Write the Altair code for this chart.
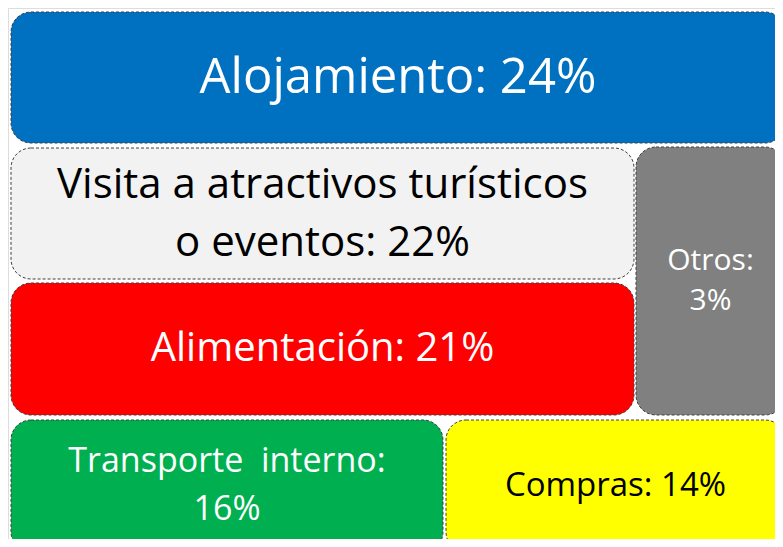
import altair as alt
import pandas as pd

# ---- data ----
categories = ["Alojamiento", "Visita a atractivos turísticos o eventos", "Alimentación",
              "Transporte interno", "Compras", "Otros"]
labels = ["Alojamiento: 24%", "Visita a atractivos turísticos\no eventos: 22%", "Alimentación: 21%",
          "Transporte\u00a0 interno:\n16%", "Compras: 14%", "Otros:\n3%"]
percent = [24, 22, 21, 16, 14, 3]

# ---- layout of the tiles (grid units = page pixels) ----
x0 = [11, 11, 11, 11, 446, 636]
x1 = [785, 634, 634, 443, 785, 785]
y0 = [12, 148, 283, 420, 420, 147]
y1 = [143, 279, 415, 552, 552, 415]

# ---- styles ----
fills = ["#0070C0", "#F2F2F2", "#FF0000", "#00B050", "#FFFF00", "#808080"]
text_colors = ["#FFFFFF", "#000000", "#FFFFFF", "#FFFFFF", "#000000", "#FFFFFF"]
font_sizes = [49, 42, 40, 34, 33, 30]
line_heights = [60, 58, 50, 48, 40, 40]
n_lines = [1, 2, 1, 2, 1, 2]

df = pd.DataFrame({
    "categoria": categories, "label": labels, "pct": percent,
    "x0": x0, "x1": x1, "y0": y0, "y1": y1,
    "fill": fills, "tcolor": text_colors,
})
df["cx"] = (df["x0"] + df["x1"]) / 2
df["cy"] = (df["y0"] + df["y1"]) / 2

W, H = 767, 531
xs = alt.Scale(domain=[8, 8 + W], nice=False, zero=False)
ys = alt.Scale(domain=[8, 8 + H], nice=False, zero=False, reverse=True)

base = alt.Chart(df)

tiles = base.mark_rect(cornerRadius=20, stroke="#404040", strokeWidth=1,
                       strokeDash=[3, 2], clip=True).encode(
    x=alt.X("x0:Q", scale=xs, axis=None),
    x2="x1:Q",
    y=alt.Y("y0:Q", scale=ys, axis=None),
    y2="y1:Q",
    fill=alt.Fill("fill:N", scale=None, legend=None),
    tooltip=["categoria:N", "pct:Q"],
)

layers = [tiles]
for cat, fs, lh, n in zip(categories, font_sizes, line_heights, n_lines):
    layers.append(
        base.transform_filter(alt.datum.categoria == cat).mark_text(
            font="Open Sans", align="center", baseline="middle",
            lineBreak="\n", lineHeight=lh, fontSize=fs,
            dy=-(n - 1) * lh / 2,
        ).encode(
            x=alt.X("cx:Q", scale=xs, axis=None),
            y=alt.Y("cy:Q", scale=ys, axis=None),
            text="label:N",
            color=alt.Color("tcolor:N", scale=None, legend=None),
        )
    )

chart = alt.layer(*layers).properties(
    width=W, height=H, padding=0, autosize=alt.AutoSizeParams(type="none")
).configure_view(stroke="transparent", strokeWidth=0).configure(background="white")

chart.save("out.html", embed_options={"renderer": "svg", "actions": False})
